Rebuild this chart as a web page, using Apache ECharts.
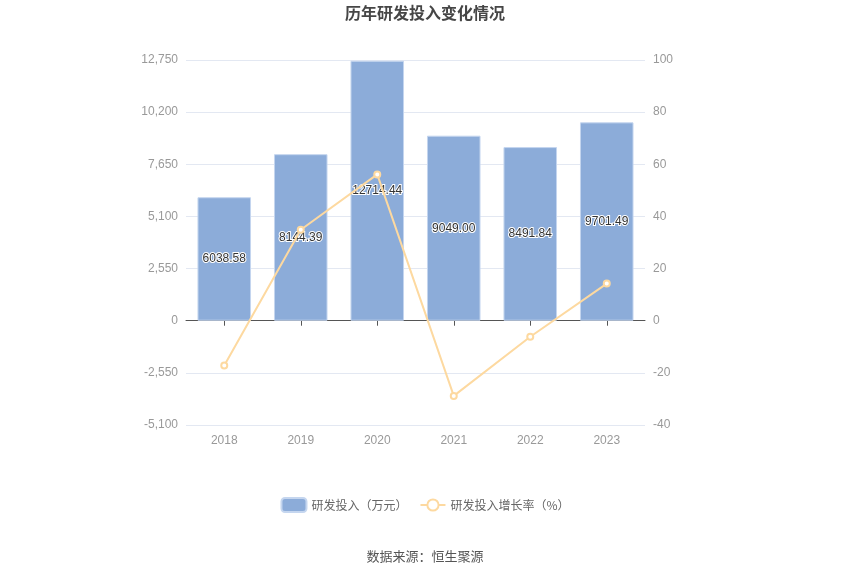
<!DOCTYPE html>
<html><head><meta charset="utf-8">
<script src="https://cdn.jsdelivr.net/npm/echarts@6/dist/echarts.min.js"></script>
<style>html,body{margin:0;padding:0;background:#fff}#c{width:850px;height:574px}</style>
</head><body><div id="c"></div>
<script>
var categories = ['2018','2019','2020','2021','2022','2023'];
var investment = [6038.58, 8144.39, 12714.44, 9049.00, 8491.84, 9701.49];
var growth = [-17.2, 34.87, 56.11, -28.83, -6.16, 14.24];
var leftTicks = {min: -5100, max: 12750, interval: 2550};
var rightTicks = {min: -40, max: 100, interval: 20};

var chart = echarts.init(document.getElementById('c'));
chart.setOption({
  animation: false,
  title: {text: '历年研发投入变化情况', left: 'center', top: 0,
    textStyle: {fontSize: 16, fontWeight: 'bold', color: '#464646', fontFamily: 'Noto Sans CJK SC'}},
  grid: {left: 186, right: 205, top: 60, bottom: 149},
  legend: {bottom: 56, left: 'center', itemWidth: 25, itemHeight: 14, itemGap: 12,
    textStyle: {color: '#666', fontSize: 12, fontFamily: 'Noto Sans CJK SC'},
    data: ['研发投入（万元）', '研发投入增长率（%）']},
  graphic: [{type: 'text', left: 'center', top: 550,
    style: {text: '数据来源：恒生聚源', fontSize: 13, fill: '#555', fontFamily: 'Noto Sans CJK SC'}}],
  xAxis: [
    {type: 'category', data: categories, position: 'bottom',
      axisLine: {show: false, onZero: false}, axisTick: {show: false},
      axisLabel: {color: '#999', fontSize: 12, margin: 10}},
    {type: 'category', data: categories, position: 'bottom',
      axisLine: {show: true, onZero: true, lineStyle: {color: '#555'}},
      axisTick: {show: true, alignWithLabel: true, length: 5, lineStyle: {color: '#555'}},
      axisLabel: {show: false}}
  ],
  yAxis: [
    {type: 'value', min: leftTicks.min, max: leftTicks.max, interval: leftTicks.interval,
      axisLine: {show: false}, axisTick: {show: false},
      axisLabel: {color: '#999', fontSize: 12, formatter: function(v){return v.toLocaleString('en-US');}},
      splitLine: {lineStyle: {color: '#e3e8f2'}}},
    {type: 'value', min: rightTicks.min, max: rightTicks.max, interval: rightTicks.interval,
      axisLine: {show: false}, axisTick: {show: false},
      axisLabel: {color: '#999', fontSize: 12},
      splitLine: {show: false}}
  ],
  series: [
    {name: '研发投入（万元）', type: 'bar', data: investment, barWidth: '70%',
      itemStyle: {color: '#8cacd9', borderColor: '#c5d6ef', borderWidth: 1},
      label: {show: true, position: 'inside', color: '#333', fontSize: 12,
        textBorderColor: '#fff', textBorderWidth: 2,
        formatter: function(p){return p.value.toFixed(2);}}},
    {name: '研发投入增长率（%）', type: 'line', yAxisIndex: 1, data: growth,
      symbol: 'emptyCircle', symbolSize: 6,
      lineStyle: {color: '#fdd9a0', width: 2},
      itemStyle: {color: '#fdd9a0'}}
  ]
});
</script></body></html>
